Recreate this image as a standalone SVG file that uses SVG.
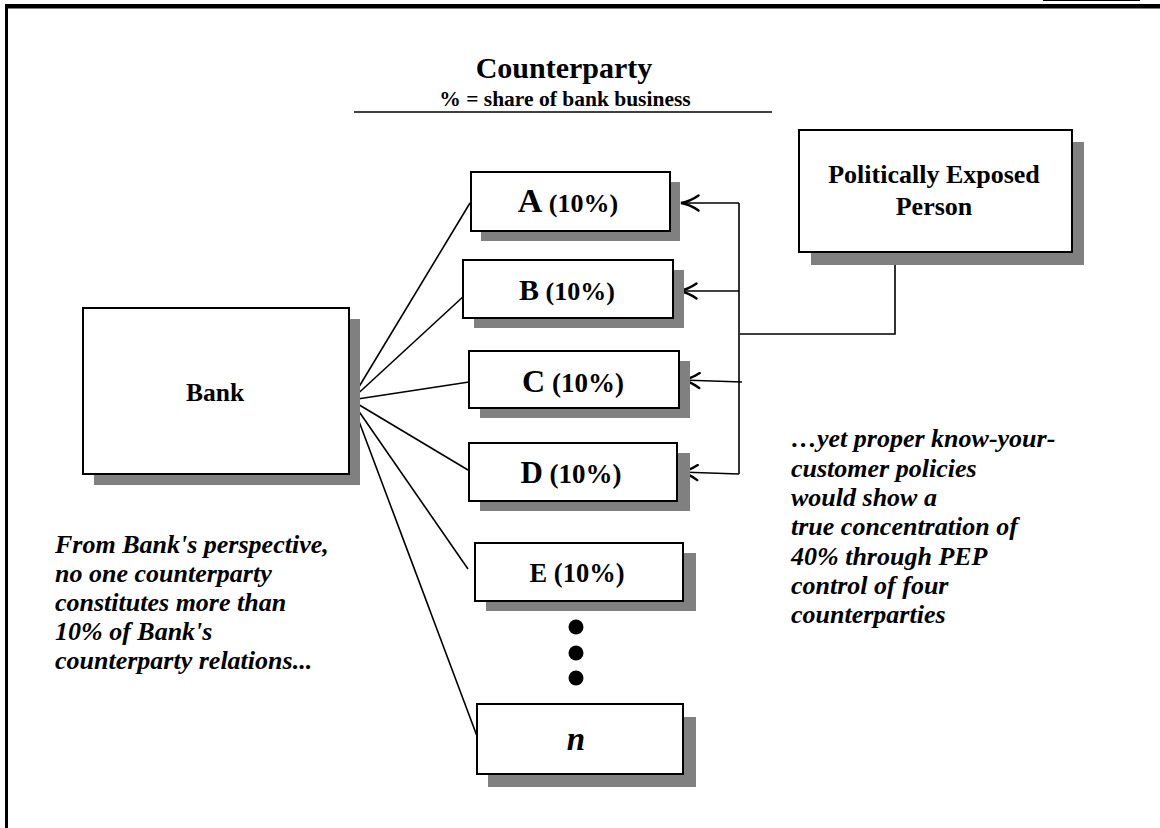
<svg xmlns="http://www.w3.org/2000/svg" width="1160" height="828" viewBox="0 0 1160 828">
<style>
  .box{fill:#fff;stroke:#000;stroke-width:2}
  .sh{fill:#808080}
  .lbl{font-family:"Liberation Serif","Times New Roman",serif;font-weight:bold;fill:#000;text-anchor:middle}
  .note{font-family:"Liberation Serif","Times New Roman",serif;font-weight:bold;font-style:italic;font-size:26px;fill:#000}
  .ln{stroke:#000;stroke-width:1.6;fill:none}
</style>
<defs>
  <marker id="arr" viewBox="0 0 20 18" refX="19" refY="9" markerWidth="20" markerHeight="18" markerUnits="userSpaceOnUse" orient="auto">
    <path d="M1.5,1.5 Q10,7.5 19,9 Q10,10.5 1.5,16.5" fill="none" stroke="#000" stroke-width="2.4" stroke-linecap="round" stroke-linejoin="miter"/>
  </marker>
</defs>
<rect width="1160" height="828" fill="#fff"/>
<!-- frame -->
<line x1="1043" y1="0.5" x2="1140" y2="0.5" stroke="#000" stroke-width="1.2"/>
<rect x="5" y="4" width="1155" height="4.5" fill="#000"/>
<rect x="5" y="4" width="3" height="824" fill="#000"/>
<!-- title -->
<g id="title">
  <text class="lbl" x="564" y="78" font-size="30">Counterparty</text>
  <text class="lbl" x="565" y="106" font-size="21.5">% = share of bank business</text>
  <line x1="354" y1="112" x2="772" y2="112" stroke="#000" stroke-width="1.6"/>
</g>
<!-- connectors -->
<g id="connectors">
  <line class="ln" x1="351" y1="400" x2="470" y2="203"/>
  <line class="ln" x1="351" y1="400" x2="465" y2="295"/>
  <line class="ln" x1="351" y1="400" x2="469" y2="382"/>
  <line class="ln" x1="351" y1="400" x2="468" y2="470"/>
  <line class="ln" x1="351" y1="400" x2="468" y2="569"/>
  <line class="ln" x1="351" y1="400" x2="477" y2="736"/>
  <polyline class="ln" points="895,252 895,334 740,334"/>
  <line class="ln" x1="739" y1="203" x2="739" y2="474"/>
  <line class="ln" x1="739" y1="203" x2="681" y2="203" marker-end="url(#arr)"/>
  <line class="ln" x1="739" y1="291" x2="679" y2="291" marker-end="url(#arr)"/>
  <line class="ln" x1="742" y1="382" x2="682" y2="380" marker-end="url(#arr)"/>
  <line class="ln" x1="739" y1="474" x2="680" y2="472" marker-end="url(#arr)"/>
</g>
<!-- nodes -->
<g id="bank">
  <rect class="sh" x="94" y="319" width="266" height="166"/>
  <rect class="box" x="83" y="308" width="266" height="166"/>
  <text class="lbl" x="215" y="401" font-size="25.5">Bank</text>
</g>
<g id="pep">
  <rect class="sh" x="811" y="142" width="273" height="123"/>
  <rect class="box" x="799" y="130" width="273" height="122"/>
  <text class="lbl" x="934" y="183" font-size="26">Politically Exposed</text>
  <text class="lbl" x="934" y="215" font-size="26">Person</text>
</g>
<g id="nodeA">
  <rect class="sh" x="481" y="182" width="199" height="59"/>
  <rect class="box" x="471" y="172" width="199" height="59"/>
  <text class="lbl" x="568" y="212" font-size="26"><tspan font-size="34">A</tspan> (10%)</text>
</g>
<g id="nodeB">
  <rect class="sh" x="474" y="270" width="210" height="58"/>
  <rect class="box" x="463" y="260" width="210" height="58"/>
  <text class="lbl" x="567" y="300" font-size="26"><tspan font-size="30">B</tspan> (10%)</text>
</g>
<g id="nodeC">
  <rect class="sh" x="480" y="361" width="210" height="57"/>
  <rect class="box" x="469" y="351" width="210" height="57"/>
  <text class="lbl" x="573" y="392" font-size="27"><tspan font-size="32">C</tspan> (10%)</text>
</g>
<g id="nodeD">
  <rect class="sh" x="480" y="453" width="210" height="58"/>
  <rect class="box" x="469" y="443" width="208" height="58"/>
  <text class="lbl" x="571" y="483" font-size="27"><tspan font-size="31">D</tspan> (10%)</text>
</g>
<g id="nodeE">
  <rect class="sh" x="486" y="553" width="210" height="58"/>
  <rect class="box" x="475" y="543" width="208" height="58"/>
  <text class="lbl" x="577" y="582" font-size="26.5">E (10%)</text>
</g>
<g id="dots">
  <circle cx="576" cy="627" r="7.5" fill="#000"/>
  <circle cx="576" cy="653" r="7.5" fill="#000"/>
  <circle cx="576" cy="678" r="7.5" fill="#000"/>
</g>
<g id="nodeN">
  <rect class="sh" x="488" y="717" width="208" height="70"/>
  <rect class="box" x="477" y="704" width="206" height="70"/>
  <text class="lbl" x="576" y="750" font-size="33" font-style="italic">n</text>
</g>
<!-- notes -->
<g id="noteLeft">
  <text class="note" x="55" y="553">From Bank's perspective,</text>
  <text class="note" x="55" y="582">no one counterparty</text>
  <text class="note" x="55" y="611">constitutes more than</text>
  <text class="note" x="55" y="640">10% of Bank's</text>
  <text class="note" x="55" y="669">counterparty relations...</text>
</g>
<g id="noteRight">
  <text class="note" x="791" y="447">…yet proper know-your-</text>
  <text class="note" x="791" y="477">customer policies</text>
  <text class="note" x="791" y="506">would show a</text>
  <text class="note" x="791" y="535">true concentration of</text>
  <text class="note" x="791" y="565">40% through PEP</text>
  <text class="note" x="791" y="594">control of four</text>
  <text class="note" x="791" y="623">counterparties</text>
</g>
</svg>
